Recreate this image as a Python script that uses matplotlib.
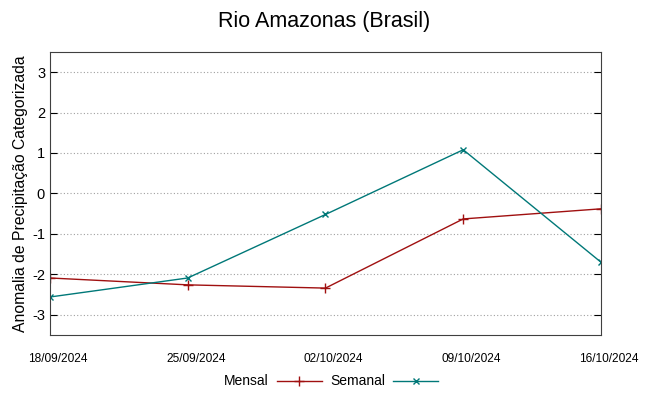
import matplotlib
matplotlib.use('Agg')
import matplotlib.pyplot as plt
import matplotlib.transforms as mtransforms
import numpy as np

plt.rcParams['font.family'] = ['Liberation Sans', 'DejaVu Sans']
plt.rcParams['axes.unicode_minus'] = False

dates = ['18/09/2024', '25/09/2024', '02/10/2024', '09/10/2024', '16/10/2024']
mensal = [-2.09, -2.26, -2.34, -0.63, -0.38]
semanal = [-2.56, -2.09, -0.52, 1.08, -1.70]

x = np.arange(len(dates))

fig = plt.figure(figsize=(6.49, 3.96), dpi=100)
ax = fig.add_axes([0.077, 0.154, 0.849, 0.715])

ax.plot(x, mensal, color='#a01010', lw=1, marker='+', ms=7, mew=1, label='Mensal')
ax.plot(x, semanal, color='#007878', lw=1, marker='x', ms=5, mew=1, label='Semanal')

ax.set_xlim(0, len(dates) - 1)
ax.set_ylim(-3.5, 3.5)
ax.set_xticks(x)
ax.set_xticklabels(dates, fontsize=8.6)
ax.tick_params(axis='x', length=0, pad=13)
shift = mtransforms.ScaledTranslation(8 / 100, 0, fig.dpi_scale_trans)
for lbl in ax.get_xticklabels():
    lbl.set_transform(lbl.get_transform() + shift)
ax.set_yticks(np.arange(-3, 4, 1))
ax.tick_params(axis='y', direction='in', right=True, labelsize=10.5, length=5)
ax.yaxis.grid(True, color='#a0a0a0', ls=(0, (1, 2)), lw=0.8)
for s in ax.spines.values():
    s.set_color('#404040')

ax.set_ylabel('Anomalia de Precipitação Categorizada', fontsize=11.3, labelpad=3)
fig.suptitle('Rio Amazonas (Brasil)', fontsize=15.5, y=0.972)

ax.legend(loc='upper center', bbox_to_anchor=(0.51, -0.095), ncol=2, frameon=False,
          markerfirst=False, fontsize=10, handlelength=3.2, columnspacing=0.6,
          handletextpad=0.6)

plt.savefig('out.png')
